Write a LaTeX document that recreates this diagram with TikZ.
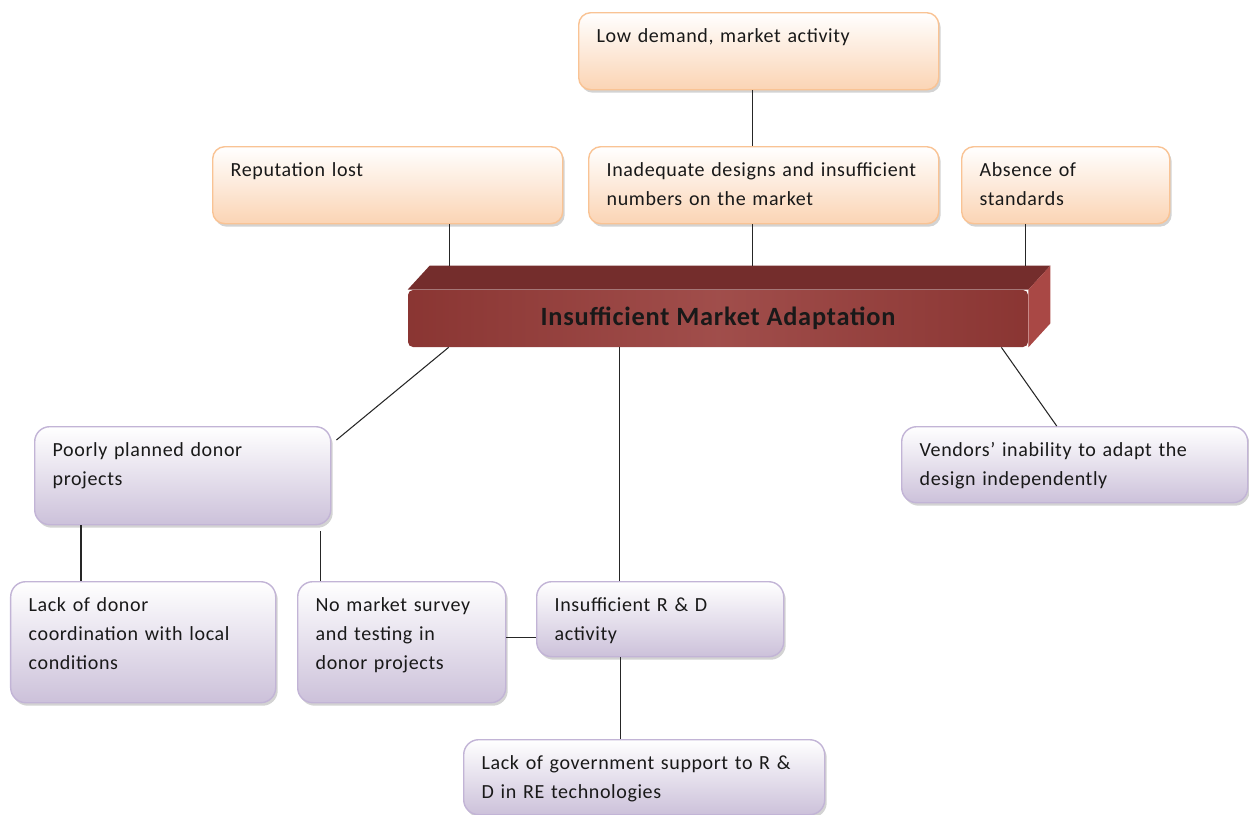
\documentclass[tikz,border=0pt]{standalone}
\usepackage{fontspec}
\setmainfont{Carlito}[LetterSpace=3]
\usetikzlibrary{shadows}
\definecolor{peach}{HTML}{FBD4B4}
\definecolor{peachline}{HTML}{F9C394}
\definecolor{lilac}{HTML}{CCC1DA}
\definecolor{lilacline}{HTML}{C2B4D6}
\definecolor{brick}{HTML}{963A37}
\definecolor{bricktop}{HTML}{742D2C}
\definecolor{brickside}{HTML}{A94845}
\tikzset{cause/.style={rectangle,anchor=north west,align=left,text=black!90,font=\fontsize{11.4}{16.5}\selectfont,inner xsep=0.36cm,inner ysep=0.25cm,text height=0.35cm}}
\tikzset{effect/.style={cause,rounded corners=0.24cm,draw=peachline,line width=0.8pt,top color=white,bottom color=peach,text depth=0.69cm,drop shadow={shadow xshift=0.04cm,shadow yshift=-0.06cm,opacity=0.35}}}
\tikzset{root/.style={cause,rounded corners=0.3cm,draw=lilacline,line width=0.8pt,top color=white,bottom color=lilac,drop shadow={shadow xshift=0.04cm,shadow yshift=-0.06cm,opacity=0.35}}}
\tikzset{core/.style={rectangle,rounded corners=0.1cm,minimum width=12.4cm,minimum height=1.14cm,left color=brick!92!black,right color=brick!92!black,middle color=brick!90!white,text=black!90,font=\fontsize{15}{18}\selectfont\bfseries}}
\tikzset{link/.style={draw=black!85,line width=0.6pt}}

\begin{document}
\begin{tikzpicture}
    \useasboundingbox (0,0) rectangle (24.98,-16.28);

    \node[core] (ima) at (14.36,-6.37) {Insufficient Market Adaptation};
    \fill[bricktop]  (ima.north west) -- ([xshift=0.44cm,yshift=0.48cm]ima.north west)
                  -- ([xshift=0.44cm,yshift=0.48cm]ima.north east) -- (ima.north east) -- cycle;
    \fill[brickside] (ima.north east) -- ([xshift=0.44cm,yshift=0.48cm]ima.north east)
                  -- ([xshift=0.44cm,yshift=0.48cm]ima.south east) -- (ima.south east) -- cycle;
    \coordinate (imatop) at ([yshift=0.48cm]ima.north);

    \node[effect, text width=6.48cm] (low)  at (11.56,-0.24) {Low demand, market activity};
    \node[effect, text width=6.28cm] (rep)  at (4.24,-2.92)  {Reputation lost};
    \node[effect, text width=6.28cm] (inad) at (11.76,-2.92) {Inadequate designs and insufficient\\numbers on the market};
    \node[effect, text width=3.44cm] (abs)  at (19.22,-2.92) {Absence of\\standards};

    \node[root, text width=5.20cm, text depth=1.11cm] (poor) at (0.68,-8.52)  {Poorly planned donor\\projects};
    \node[root, text width=6.20cm, text depth=0.67cm] (vend) at (18.02,-8.52) {Vendors’ inability to adapt the\\design independently};
    \node[root, text width=4.58cm, text depth=1.57cm] (lack) at (0.20,-11.62) {Lack of donor\\coordination with local\\conditions};
    \node[root, text width=3.44cm, text depth=1.57cm] (nomk) at (5.94,-11.62) {No market survey\\and testing in\\donor projects};
    \node[root, text width=4.22cm, text depth=0.65cm] (rnd)  at (10.72,-11.62) {Insufficient R \& D\\activity};
    \node[root, text width=6.50cm, text depth=0.65cm] (gov)  at (9.26,-14.78) {Lack of government support to R \&\\D in RE technologies};

    \draw[link] ([xshift=-0.12cm]low.south) -- ([xshift=-0.12cm]low.south |- inad.north);
    \draw[link] ([xshift=1.24cm]rep.south) -- ([xshift=1.24cm]rep.south |- imatop);
    \draw[link] ([xshift=-0.22cm]inad.south) -- ([xshift=-0.22cm]inad.south |- imatop);
    \draw[link] ([xshift=-0.80cm]abs.south) -- ([xshift=-0.80cm]abs.south |- imatop);
    \draw[link] ([xshift=0.82cm]ima.south west) -- ([xshift=0.10cm,yshift=-0.28cm]poor.north east);
    \draw[link] ([xshift=4.24cm]ima.south west) -- ([xshift=4.24cm]ima.south west |- rnd.north);
    \draw[link] ([xshift=-0.54cm]ima.south east) -- ([xshift=-0.36cm]vend.north);
    \draw[link] ([xshift=0.94cm]poor.south west) -- ([xshift=0.94cm]poor.south west |- lack.north);
    \draw[link] ([xshift=-0.22cm,yshift=-0.12cm]poor.south east) -- ([xshift=-0.22cm]poor.south east |- nomk.north);
    \draw[link] ([yshift=0.1cm]nomk.east) -- ([yshift=0.1cm]nomk.east -| rnd.west);
    \draw[link] ([xshift=-0.79cm]rnd.south) -- ([xshift=-0.79cm]rnd.south |- gov.north);
\end{tikzpicture}
\end{document}
